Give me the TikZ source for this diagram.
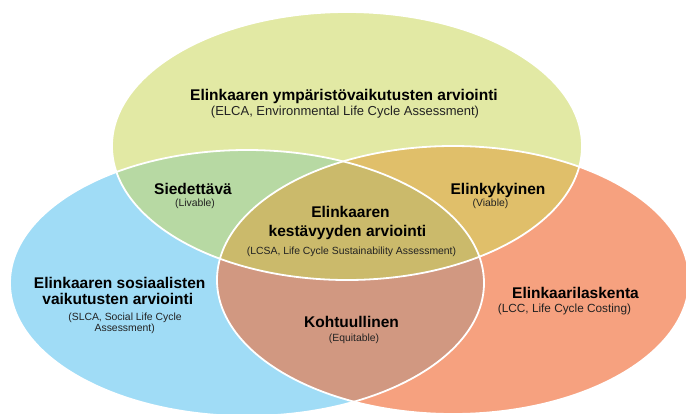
\documentclass[tikz,border=0pt]{standalone}
\usepackage{fontspec}
\setmainfont{Liberation Sans}

\definecolor{envfill}{HTML}{E2E9A4}
\definecolor{socfill}{HTML}{A0DCF6}
\definecolor{costfill}{HTML}{F6A17F}
\definecolor{livefill}{HTML}{B7D9A3}
\definecolor{viafill}{HTML}{E0BF6A}
\definecolor{equifill}{HTML}{D19881}
\definecolor{lcsafill}{HTML}{CBBA6B}
\definecolor{subtext}{HTML}{222222}

% the three overlapping assessment areas
\newcommand\envEllipse{(347,146) ellipse [x radius=235pt, y radius=134pt]}
\newcommand\socEllipse{(247,283) ellipse [x radius=237pt, y radius=133pt]}
\newcommand\costEllipse{(453,280) ellipse [x radius=236pt, y radius=134pt]}

\begin{document}
\begin{tikzpicture}[x=1pt,y=-1pt,
  head/.style={font=\bfseries\fontsize{15.5}{18}\selectfont, text=black, inner sep=0pt, anchor=base},
  note/.style={font=\fontsize{10.4}{12}\selectfont, text=subtext, inner sep=0pt, anchor=base},
  rim/.style={draw=white, line width=1.8pt}]
\useasboundingbox (0,0) rectangle (686,413);

% base fills
\fill[envfill] \envEllipse;
\fill[socfill] \socEllipse;
\fill[costfill] \costEllipse;

% pairwise overlaps
\begin{scope}
  \clip \envEllipse;
  \fill[livefill] \socEllipse;
  \fill[viafill] \costEllipse;
\end{scope}
\begin{scope}
  \clip \socEllipse;
  \fill[equifill] \costEllipse;
\end{scope}
% common core
\begin{scope}
  \clip \envEllipse;
  \clip \socEllipse;
  \fill[lcsafill] \costEllipse;
\end{scope}

% white rims
\draw[rim] \envEllipse;
\draw[rim] \socEllipse;
\draw[rim] \costEllipse;

% labels
\node[head] (elcaA) at (344,100) {Elinkaaren ympäristövaikutusten arviointi};
\node[note, font=\fontsize{13}{15}\selectfont] (elcaB) at (345,115.7) {(ELCA, Environmental Life Cycle Assessment)};

\node[head] (liveA) at (193,194.4) {Siedettävä};
\node[note] (liveB) at (195,206.7) {(Livable)};

\node[head] (viaA) at (498,194.4) {Elinkykyinen};
\node[note] (viaB) at (490.5,206.7) {(Viable)};

\node[head] (lcsaA) at (350.5,217.7) {Elinkaaren};
\node[head] (lcsaB) at (347.5,236.2) {kestävyyden arviointi};
\node[note] (lcsaC) at (351.5,254) {(LCSA, Life Cycle Sustainability Assessment)};

\node[head] (equiA) at (351.5,327.3) {Kohtuullinen};
\node[note] (equiB) at (354,341.7) {(Equitable)};

\node[head] (slcaA) at (119.7,288.3) {Elinkaaren sosiaalisten};
\node[head] (slcaB) at (117.8,304.2) {vaikutusten arviointi};
\node[note] (slcaC) at (125,320.7) {(SLCA, Social Life Cycle};
\node[note] (slcaD) at (124.7,331.2) {Assessment)};

\node[head] (lccA) at (575.5,298) {Elinkaarilaskenta};
\node[note, font=\fontsize{11.8}{14}\selectfont] (lccB) at (564.5,312.7) {(LCC, Life Cycle Costing)};
\end{tikzpicture}
\end{document}
